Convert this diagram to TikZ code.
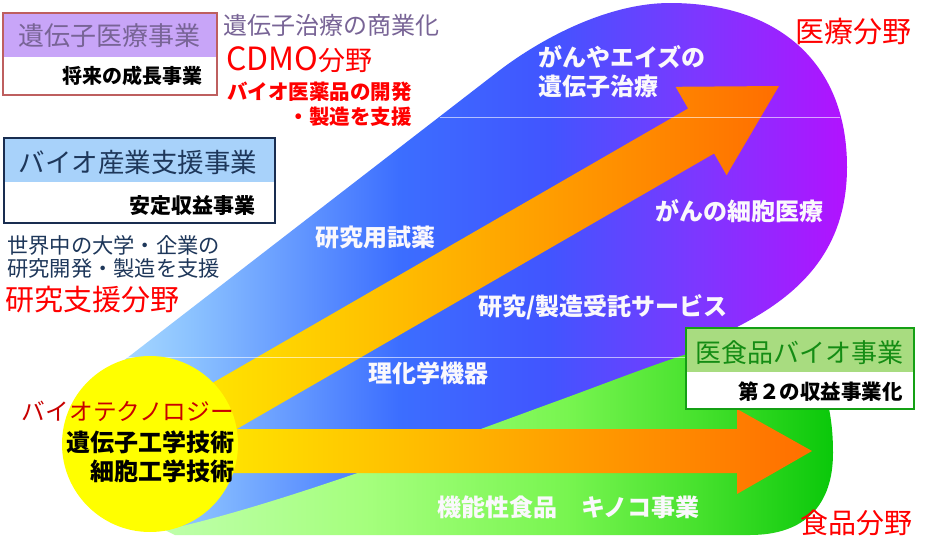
\documentclass[tikz,border=0pt]{standalone}
\usepackage{fontspec}
\setmainfont{Noto Sans CJK JP}
\definecolor{genefill}{RGB}{200,165,248}
\definecolor{geneline}{RGB}{190,95,95}
\definecolor{genetext}{RGB}{120,100,150}
\definecolor{fieldred}{RGB}{255,0,0}
\definecolor{biofill}{RGB}{168,210,250}
\definecolor{bioline}{RGB}{25,45,80}
\definecolor{biotext}{RGB}{30,55,90}
\definecolor{foodfill}{RGB}{168,220,128}
\definecolor{foodline}{RGB}{20,160,20}
\definecolor{foodtext}{RGB}{20,140,20}
\definecolor{coreyellow}{RGB}{255,255,0}
\definecolor{corered}{RGB}{200,0,0}
\definecolor{arrowyellow}{RGB}{255,238,0}
\definecolor{arroworange}{RGB}{255,110,0}
\definecolor{fanA}{RGB}{175,222,255}
\definecolor{fanB}{RGB}{140,195,255}
\definecolor{fanC}{RGB}{60,110,255}
\definecolor{fanD}{RGB}{65,85,255}
\definecolor{fanE}{RGB}{125,55,255}
\definecolor{fanF}{RGB}{178,18,255}
\definecolor{greenA}{RGB}{190,255,170}
\definecolor{greenB}{RGB}{165,255,125}
\definecolor{greenC}{RGB}{120,245,80}
\definecolor{greenD}{RGB}{70,225,45}
\definecolor{greenE}{RGB}{10,200,10}
\definecolor{lblwhite}{RGB}{250,248,252}
\pgfdeclarehorizontalshading{fanshade}{100bp}{color(0bp)=(fanA); color(25bp)=(fanA); color(31bp)=(fanB); color(45bp)=(fanC); color(55bp)=(fanD); color(65bp)=(fanE); color(75bp)=(fanF); color(100bp)=(fanF)}
\pgfdeclarehorizontalshading{greenshade}{100bp}{color(0bp)=(greenA); color(25bp)=(greenA); color(40bp)=(greenB); color(55bp)=(greenC); color(65bp)=(greenD); color(75bp)=(greenE); color(100bp)=(greenE)}
\newcommand{\fsz}[1]{\fontsize{#1}{#1}\selectfont}
\tikzset{
  txt/.style={inner sep=0pt},
  whitelbl/.style={inner sep=0pt, anchor=west, text=lblwhite, font=\bfseries\fsz{24}},
  seam/.style={white, opacity=0.6, line width=0.6pt}
}

\begin{document}
\begin{tikzpicture}[x=1pt,y=-1pt]
  \useasboundingbox (0,0) rectangle (938,541);
  \fill[white] (0,0) rectangle (938,541);

  % Research support and medical field
  \shade[shading=fanshade] (118,365) -- (500,70) .. controls (545,36) and (610,3) .. (670,3)
    .. controls (775,3) and (847,60) .. (847,167) .. controls (847,250) and (800,295) .. (737,327)
    -- (700,362) -- (400,492) -- (175,530) -- (100,430) -- cycle;

  % Food field
  \shade[shading=greenshade] (165,530) .. controls (280,505) and (450,440) .. (560,400)
    .. controls (620,378) and (660,362) .. (700,350) -- (790,345)
    .. controls (828,370) and (833,420) .. (833,453) .. controls (833,505) and (805,535) .. (750,535)
    -- (175,535) -- cycle;

  % Arrows
  \shade[left color=arrowyellow, right color=arroworange] (157,415) -- (688.1,108.5) -- (675.6,86.8)
    -- (779,86) -- (726.6,175.2) -- (714.1,153.5) -- (183,460) -- cycle;
  \shade[left color=arrowyellow, right color=arroworange] (170,429) -- (737,429) -- (737,409)
    -- (812,451) -- (737,494) -- (737,473) -- (170,473) -- cycle;

  \draw[seam] (440,117) -- (840,117);
  \draw[seam] (125,357) -- (690,357);

  % Biotechnology
  \fill[coreyellow] (150,444) circle (88);
  \node[txt, anchor=east, text=corered, font=\fsz{23.7}] (coretitle) at (234,411) {バイオテクノロジー};
  \node[txt, anchor=east, font=\bfseries\fsz{24}] (coregene) at (235,442) {遺伝子工学技術};
  \node[txt, anchor=east, font=\bfseries\fsz{24}] (corecell) at (235,471) {細胞工学技術};

  % Gene therapy business
  \fill[white] (3,13) rectangle (217,95);
  \fill[genefill] (3,13) rectangle (217,57);
  \draw[geneline, line width=1.8pt] (3,13) rectangle (217,95);
  \node[txt, text=genetext, font=\fsz{26}] (genetitle) at (110,36) {遺伝子医療事業};
  \node[txt, anchor=east, font=\bfseries\fsz{20}] (genesub) at (203,76) {将来の成長事業};

  % CDMO
  \node[txt, anchor=west, text=genetext, font=\fsz{24}] (cdmohead) at (223,25) {遺伝子治療の商業化};
  \node[txt, anchor=west, text=fieldred] (cdmo) at (226,60) {\fsz{32}CDMO{\fsz{27}分野}};
  \node[txt, anchor=east, text=fieldred, font=\bfseries\fsz{20.5}] (cdmodev) at (412,92) {バイオ医薬品の開発};
  \node[txt, anchor=east, text=fieldred, font=\bfseries\fsz{20.5}] (cdmoman) at (412,117) {・製造を支援};

  % Bio industry support business
  \fill[white] (4,138) rectangle (275,223);
  \fill[biofill] (4,138) rectangle (275,182);
  \draw[bioline, line width=1.8pt] (4,138) rectangle (275,223);
  \node[txt, text=biotext, font=\fsz{26.5}] (biotitle) at (138,162) {バイオ産業支援事業};
  \node[txt, anchor=east, font=\bfseries\fsz{21}] (biosub) at (256,206) {安定収益事業};

  % Research support field
  \node[txt, anchor=west, text=biotext, font=\fsz{21.3}] (resworld) at (7,245) {世界中の大学・企業の};
  \node[txt, anchor=west, text=biotext, font=\fsz{21.3}] (resdev) at (7,268) {研究開発・製造を支援};
  \node[txt, anchor=west, text=fieldred, font=\fsz{29}] (resfield) at (5,300) {研究支援分野};

  % Products
  \node[whitelbl] (reagent) at (315,237) {研究用試薬};
  \node[whitelbl] (contract) at (478,307) {研究/製造受託サービス};
  \node[whitelbl] (instrument) at (368,373) {理化学機器};
  \node[whitelbl] (aids) at (538,57) {がんやエイズの};
  \node[whitelbl] (genether) at (538,86) {遺伝子治療};
  \node[whitelbl] (cancercell) at (655,211) {がんの細胞医療};
  \node[whitelbl] (funcfood) at (437,507) {機能性食品　キノコ事業};

  % Field names
  \node[txt, anchor=west, text=fieldred, font=\fsz{29}] (medfield) at (795,32) {医療分野};
  \node[txt, anchor=west, text=fieldred, font=\fsz{28}] (foodfield) at (800,523) {食品分野};

  % Food bio business
  \fill[white] (686,328) rectangle (914,409);
  \fill[foodfill] (686,328) rectangle (914,372);
  \draw[foodline, line width=2.5pt] (686,328) rectangle (914,409);
  \node[txt, text=foodtext, font=\fsz{26}] (foodtitle) at (799,353) {医食品バイオ事業};
  \node[txt, anchor=east, font=\bfseries\fsz{20.5}] (foodsub) at (903,392) {第２の収益事業化};
\end{tikzpicture}
\end{document}
